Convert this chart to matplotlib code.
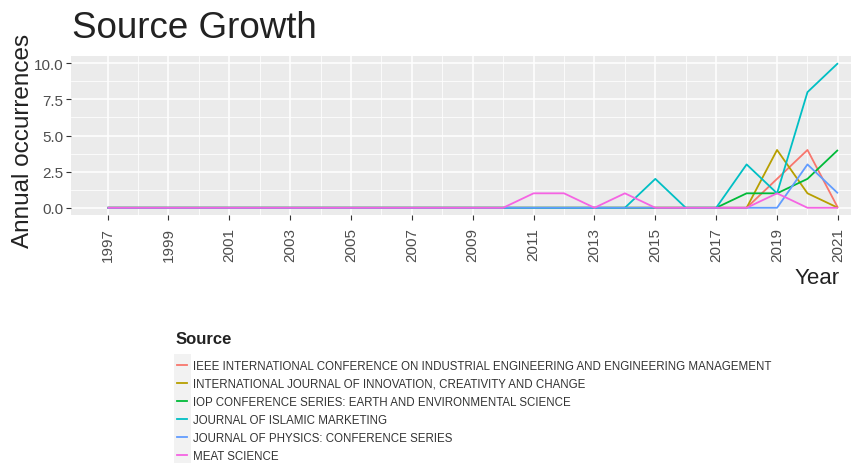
import matplotlib

matplotlib.use("Agg")
import matplotlib.pyplot as plt
from matplotlib.lines import Line2D
from matplotlib.patches import Rectangle

plt.rcParams["font.family"] = ["Liberation Sans", "DejaVu Sans"]

years = list(range(1997, 2022))

sources = [
    "IEEE INTERNATIONAL CONFERENCE ON INDUSTRIAL ENGINEERING AND ENGINEERING MANAGEMENT",
    "INTERNATIONAL JOURNAL OF INNOVATION, CREATIVITY AND CHANGE",
    "IOP CONFERENCE SERIES: EARTH AND ENVIRONMENTAL SCIENCE",
    "JOURNAL OF ISLAMIC MARKETING",
    "JOURNAL OF PHYSICS: CONFERENCE SERIES",
    "MEAT SCIENCE",
]
colors = ["#F8766D", "#B79F00", "#00BA38", "#00BFC4", "#619CFF", "#F564E3"]

# yearly counts, 1997 .. 2021
ieee = [0] * 22 + [2, 4, 0]
ijicc = [0] * 22 + [4, 1, 0]
iop = [0] * 21 + [1, 1, 2, 4]
jim = [0] * 18 + [2, 0, 0, 3, 1, 8, 10]
jphys = [0] * 23 + [3, 1]
meat = [0] * 14 + [1, 1, 0, 1, 0, 0, 0, 0, 1, 0, 0]
series = [ieee, ijicc, iop, jim, jphys, meat]

xticks = list(range(1997, 2022, 2))
yticks = [0.0, 2.5, 5.0, 7.5, 10.0]

W, H = 851, 464
fig = plt.figure(figsize=(W / 100, H / 100), dpi=100)
ax = fig.add_axes([71 / W, (H - 216) / H, (W - 71) / W, (216 - 57) / H])
ax.set_facecolor("#EBEBEB")

for vals, col in zip(series, colors):
    ax.plot(years, vals, color=col, linewidth=1.3, solid_capstyle="butt")

ax.set_xlim(1995.8, 2021.43)
ax.set_ylim(-0.5, 10.5)
ax.set_xticks(xticks)
ax.set_xticks(list(range(1998, 2022, 2)), minor=True)
ax.set_yticks(yticks)
ax.set_yticks([1.25, 3.75, 6.25, 8.75], minor=True)
ax.set_yticklabels([f"{v:.1f}" for v in yticks])
ax.set_xticklabels([str(y) for y in xticks], rotation=90)
ax.grid(which="major", color="white", linewidth=1.1)
ax.grid(which="minor", color="white", linewidth=0.55)
ax.set_axisbelow(True)
for s in ax.spines.values():
    s.set_visible(False)
ax.tick_params(which="major", colors="#333333", length=3.5, width=0.8,
               labelsize=11, labelcolor="#4D4D4D", pad=2)
ax.tick_params(axis="x", which="major", pad=5)
ax.tick_params(which="minor", length=0)

fig.text(72 / W, 1 - 28 / H, "Source Growth", fontsize=26.5, color="#222222",
         ha="left", va="center")
fig.text(23 / W, 1 - 141 / H, "Annual occurrences", fontsize=17.5, color="#222222",
         rotation=90, ha="center", va="center")
fig.text(840 / W, 1 - 278 / H, "Year", fontsize=16, color="#222222",
         ha="right", va="center")

# legend: title as plain text, keys on a grey strip
fig.text(176 / W, 1 - 339 / H, "Source", fontsize=12, fontweight="bold",
         color="#222222", ha="left", va="center")
fig.patches.append(Rectangle((174 / W, 0), 17 / W, (H - 355) / H,
                             transform=fig.transFigure, facecolor="#F2F2F2",
                             edgecolor="none", zorder=0))
handles = [Line2D([], [], color=c, linewidth=1.3) for c in colors]
leg = fig.legend(handles, sources, loc="upper left",
                 bbox_to_anchor=(169 / W, 1 - 352.5 / H), frameon=False,
                 fontsize=8.3, handlelength=0.9, handletextpad=0.5,
                 labelspacing=0.53, borderpad=0.2)
for t in leg.get_texts():
    t.set_color("#333333")

fig.savefig("out.png", dpi=100)
